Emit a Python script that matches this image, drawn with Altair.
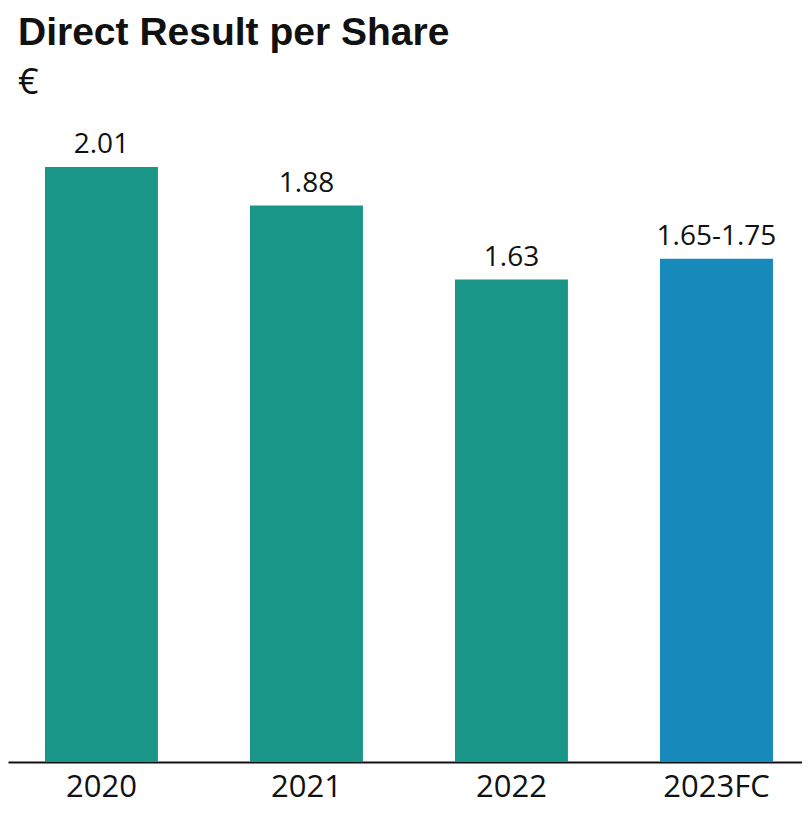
import altair as alt
import pandas as pd

years = ["2020", "2021", "2022", "2023FC"]
values = [2.01, 1.88, 1.63, 1.70]
labels = ["2.01", "1.88", "1.63", "1.65-1.75"]
kinds = ["actual", "actual", "actual", "forecast"]

df = pd.DataFrame({"year": years, "value": values, "label": labels, "kind": kinds})

FONT = "Open Sans"
H = 646
YMAX = H / 296.0

x = alt.X(
    "year:N",
    sort=years,
    scale=alt.Scale(paddingInner=0.449, paddingOuter=0.161, align=0.56),
    axis=alt.Axis(
        title=None, labelAngle=0, labelFontSize=31, labelFont=FONT,
        labelColor="#111111", labelPadding=10, ticks=False,
        domainColor="#111111", domainWidth=2,
    ),
)
y = alt.Y("value:Q", scale=alt.Scale(domain=[0, YMAX]), axis=None)

bars = alt.Chart(df).mark_bar().encode(
    x=x, y=y,
    color=alt.Color("kind:N", scale=alt.Scale(domain=["actual", "forecast"],
                                              range=["#199687", "#1789ba"]), legend=None),
)
text = alt.Chart(df).mark_text(
    baseline="alphabetic", dy=-14, fontSize=28, font=FONT, color="#111111"
).encode(x=x, y=y, text="label:N")

chart = alt.layer(bars, text).properties(
    width=794, height=H,
    title=alt.TitleParams(
        "Direct Result per Share", subtitle="€", anchor="start",
        font="Liberation Sans", fontSize=39, fontWeight="bold", color="#111111",
        subtitleFont=FONT, subtitleFontSize=36, subtitleColor="#111111",
        subtitlePadding=13, offset=15, dx=10,
    ),
    padding={"left": 0, "top": 108, "right": 0, "bottom": 46},
    autosize="none",
).configure_view(stroke=None)

chart.save("out.html", embed_options={"renderer": "svg", "actions": False})
